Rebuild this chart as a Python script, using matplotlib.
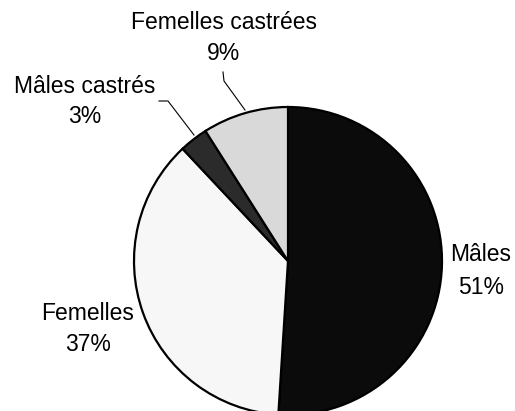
import matplotlib
matplotlib.use("Agg")
import matplotlib.pyplot as plt

categories = ["Mâles", "Femelles", "Mâles castrés", "Femelles castrées"]
values = [51, 37, 3, 9]
colors = ["#0b0b0b", "#f7f7f7", "#2b2b2b", "#d9d9d9"]

W, H = 515, 411
fig = plt.figure(figsize=(W / 100, H / 100), dpi=100)
ax = fig.add_axes([0, 0, 1, 1])

cx, cy, r = 288, H - 261, 154
wedges, _ = ax.pie(values, colors=colors, startangle=90, counterclock=False,
                   center=(cx, cy), radius=r, frame=True,
                   wedgeprops=dict(edgecolor="black", linewidth=1.6))
ax.set_xlim(0, W)
ax.set_ylim(0, H)
ax.set_aspect("equal")
ax.axis("off")

# label layout (pixel positions, top-origin: center x, baseline of line1, baseline of line2)
label_pos = [(481, 261, 294), (88, 320, 351), (85, 93, 123), (224, 29, 60)]
fs = 16.5
for cat, val, (x, b1, b2) in zip(categories, values, label_pos):
    ax.text(x, H - b1, cat, ha="center", va="baseline", fontsize=fs,
            family="Liberation Sans", color="black")
    ax.text(x, H - b2, f"{val}%", ha="center", va="baseline", fontsize=fs,
            family="Liberation Sans", color="black")

# leader lines
leaders = [
    [(159, 101), (168, 101), (194, 135)],
    [(223, 72), (224, 81), (245, 110)],
]
for pts in leaders:
    xs = [p[0] for p in pts]
    ys = [H - p[1] for p in pts]
    ax.plot(xs, ys, color="black", linewidth=0.8)

fig.savefig("out.png", dpi=100)
